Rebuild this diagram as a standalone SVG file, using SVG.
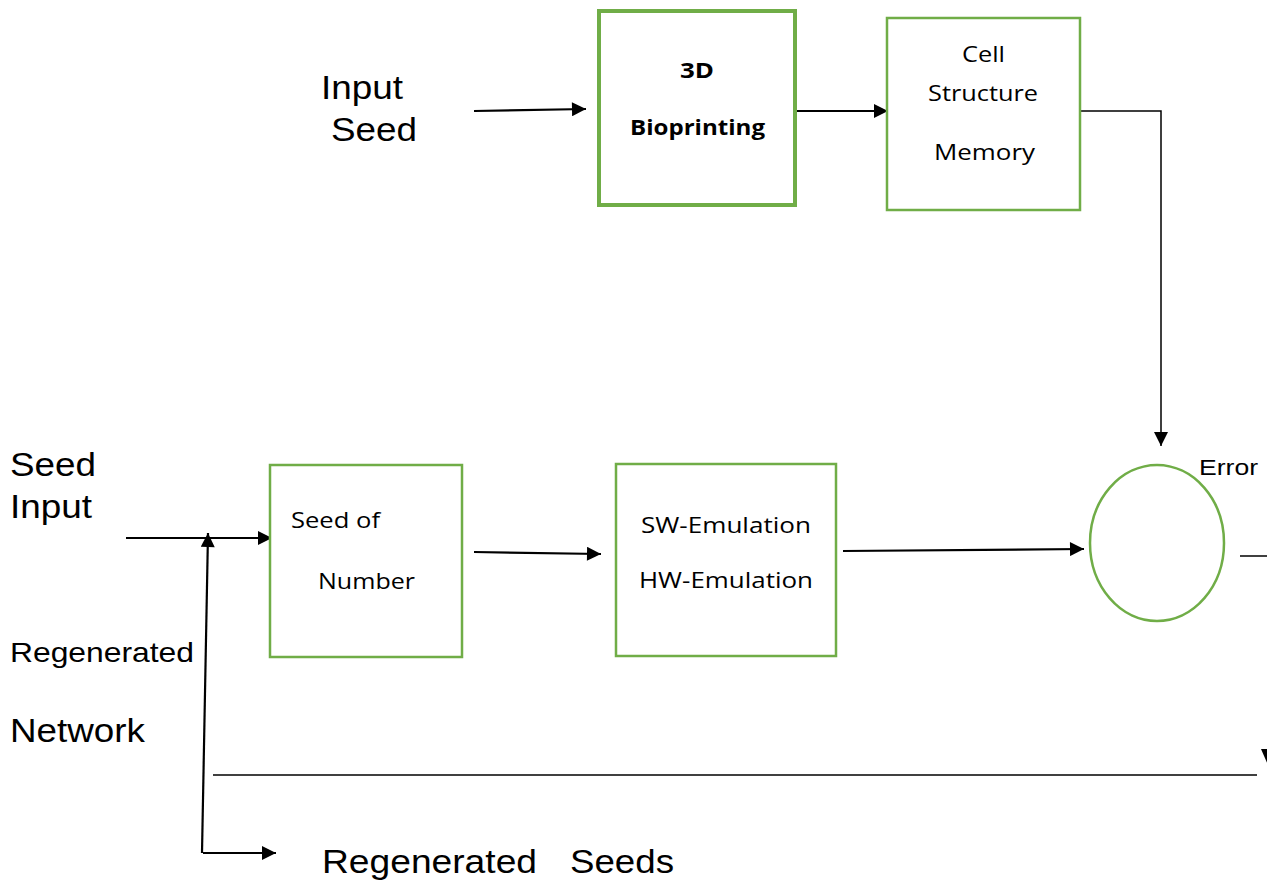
<svg xmlns="http://www.w3.org/2000/svg" width="1267" height="880" viewBox="0 0 1267 880">
<defs>
<style>
.box{fill:#fff;stroke:#70AD47;stroke-width:2.5}
.thick{stroke-width:4}
.ln{fill:none;stroke:#000;stroke-width:2.2}
.thin{fill:none;stroke:#000;stroke-width:1.5}
.ar{font-family:"Liberation Sans",Arial,sans-serif;fill:#000}
.cb{font-family:"Open Sans","Noto Sans",sans-serif;fill:#000;font-size:22px}
</style>
<marker id="ah" viewBox="0 0 10 10" refX="10" refY="5" markerWidth="16" markerHeight="14" markerUnits="userSpaceOnUse" orient="auto">
<path d="M0,0 L10,5 L0,10 Z" fill="#000"/>
</marker>
</defs>
<rect width="1267" height="880" fill="#fff"/>
<g id="connectors">
<line class="ln" x1="474" y1="111" x2="586" y2="109" marker-end="url(#ah)"/>
<line class="ln" x1="790" y1="111" x2="888" y2="111" marker-end="url(#ah)"/>
<polyline class="thin" points="1080,111 1161,111 1161,446" marker-end="url(#ah)"/>
<line class="ln" x1="126" y1="538" x2="272" y2="538" marker-end="url(#ah)"/>
<line class="ln" x1="202" y1="853" x2="208" y2="533" marker-end="url(#ah)"/>
<line class="ln" x1="203" y1="853" x2="276" y2="853" marker-end="url(#ah)"/>
<line class="ln" x1="474" y1="552" x2="601" y2="554" marker-end="url(#ah)"/>
<line class="ln" x1="843" y1="551" x2="1084" y2="549" marker-end="url(#ah)"/>
<line class="thin" x1="1240" y1="556" x2="1267" y2="556"/>
<line class="thin" x1="213" y1="775" x2="1257" y2="775"/>
<path d="M1261,749 L1275,749 L1268,765 Z" fill="#000"/>
</g>
<g id="input-seed-label">
<text class="ar" x="321" y="99" font-size="33" textLength="82" lengthAdjust="spacingAndGlyphs">Input</text>
<text class="ar" x="331" y="141" font-size="33" textLength="86" lengthAdjust="spacingAndGlyphs">Seed</text>
</g>
<g id="bioprinting">
<rect class="box thick" x="599" y="11" width="196" height="194"/>
<text class="cb" x="680" y="78" font-weight="bold" font-size="21" textLength="34" lengthAdjust="spacingAndGlyphs">3D</text>
<text class="cb" x="630" y="135" font-weight="bold" font-size="21" textLength="135" lengthAdjust="spacingAndGlyphs">Bioprinting</text>
</g>
<g id="cell-structure-memory">
<rect class="box" x="887" y="18" width="193" height="192"/>
<text class="cb" x="962" y="62" textLength="43" lengthAdjust="spacingAndGlyphs">Cell</text>
<text class="cb" x="928" y="101" textLength="110" lengthAdjust="spacingAndGlyphs">Structure</text>
<text class="cb" x="934" y="160" textLength="101" lengthAdjust="spacingAndGlyphs">Memory</text>
</g>
<g id="seed-input-label">
<text class="ar" x="10" y="476" font-size="33" textLength="86" lengthAdjust="spacingAndGlyphs">Seed</text>
<text class="ar" x="10" y="518" font-size="33" textLength="82" lengthAdjust="spacingAndGlyphs">Input</text>
</g>
<g id="seed-of-number">
<rect class="box" x="270" y="465" width="192" height="192"/>
<text class="cb" x="291" y="528" textLength="89" lengthAdjust="spacingAndGlyphs">Seed of</text>
<text class="cb" x="318" y="589" textLength="97" lengthAdjust="spacingAndGlyphs">Number</text>
</g>
<g id="emulation">
<rect class="box" x="616" y="464" width="220" height="192"/>
<text class="cb" x="641" y="533" textLength="170" lengthAdjust="spacingAndGlyphs">SW-Emulation</text>
<text class="cb" x="639" y="588" textLength="174" lengthAdjust="spacingAndGlyphs">HW-Emulation</text>
</g>
<g id="error">
<ellipse cx="1157" cy="543" rx="67" ry="78" fill="#fff" stroke="#70AD47" stroke-width="2.5"/>
<text class="ar" x="1199" y="475" font-size="22" textLength="59" lengthAdjust="spacingAndGlyphs">Error</text>
</g>
<g id="regenerated-network-label">
<text class="ar" x="10" y="662" font-size="28" textLength="184" lengthAdjust="spacingAndGlyphs">Regenerated</text>
<text class="ar" x="10" y="742" font-size="33" textLength="135" lengthAdjust="spacingAndGlyphs">Network</text>
</g>
<g id="regenerated-seeds-label">
<text class="ar" x="322" y="873" font-size="33" textLength="215" lengthAdjust="spacingAndGlyphs">Regenerated</text>
<text class="ar" x="570" y="873" font-size="33" textLength="104" lengthAdjust="spacingAndGlyphs">Seeds</text>
</g>
</svg>
